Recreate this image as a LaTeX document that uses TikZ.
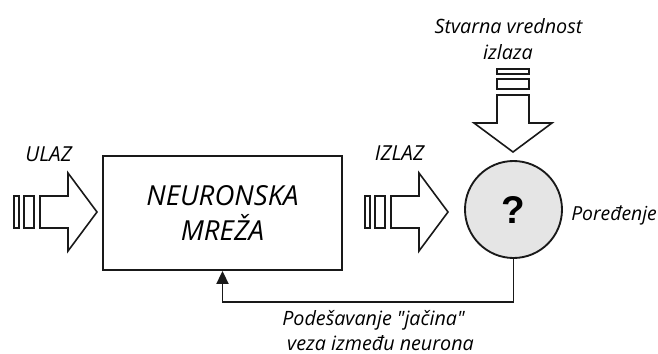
\documentclass[tikz,border=0pt]{standalone}
\usepackage{fontspec}
\setmainfont{Open Sans}[Ligatures=TeXOff]
\newfontfamily\qfont{Liberation Sans}
\usetikzlibrary{arrows.meta}
\begin{document}
\begin{tikzpicture}[x=0.75pt,y=-0.75pt,
  lw/.style={line width=1.2pt, draw=black!90},
  lbl/.style={font=\fontsize{14.8}{17}\selectfont\itshape, inner sep=0pt, anchor=base},
  big/.style={font=\fontsize{15.5}{18}\selectfont\itshape, inner sep=0pt, anchor=base},
  pics/blockarrow/.style={code={
     \draw[lw] (-83,-16) rectangle (-78,16);
     \draw[lw] (-73,-16) rectangle (-63,16);
     \draw[lw,line join=miter] (-57,-16) -- (-29,-16) -- (-29,-39) -- (0,0) -- (-29,39) -- (-29,16) -- (-57,16) -- cycle;
  }}]
\useasboundingbox (0,0) rectangle (658,354);
\pic at (97,212) {blockarrow};
\pic at (448,212) {blockarrow};
\pic[rotate=-90] at (513,152) {blockarrow};
\node[draw,lw,line width=1.4pt,minimum width=179.25pt,minimum height=85.5pt,align=center,
      font=\fontsize{20.7}{26.25}\selectfont\itshape] (box) at (222.5,213) {NEURONSKA\\MREŽA};
\node[draw,lw,line width=1.4pt,circle,fill=black!10,minimum size=72.75pt,inner sep=0pt,
      font=\qfont\bfseries\fontsize{29}{30}\selectfont] (cmp) at (513.5,209.5) {?};
\node[big] (ulaz) at (48.5,161) {ULAZ};
\node[big] (izlaz) at (399.5,160) {IZLAZ};
\node[lbl] (stv) at (508.5,33) {Stvarna vrednost};
\node[lbl] (izl) at (508,59) {izlaza};
\node[lbl,font=\fontsize{14.5}{17}\selectfont\itshape,anchor=base west] (por) at (571,220) {Poređenje};
\node[lbl] (pod) at (373.5,325) {Podešavanje "jačina"};
\node[lbl] (veza) at (380.5,350) {veza između neurona};
\draw[lw,line width=1.4pt,-{Triangle[length=9.75pt,width=9pt]}] (cmp.south) -- ++(0,43) -| (box.south);
\end{tikzpicture}
\end{document}
